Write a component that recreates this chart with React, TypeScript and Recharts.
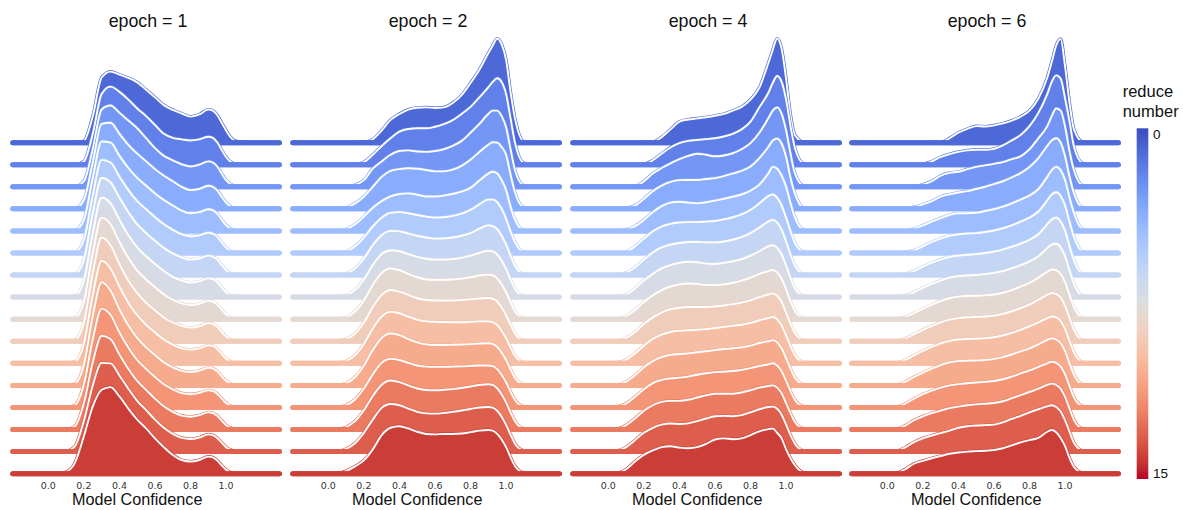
import { Area, ComposedChart, XAxis, YAxis } from "recharts";

// confidence grid the densities were read at
const X_GRID = [
	0.05, 0.1, 0.15, 0.2, 0.25, 0.3, 0.35, 0.4, 0.45, 0.5, 0.55, 0.6, 0.65, 0.7,
	0.75, 0.8, 0.85, 0.9, 0.925, 0.95, 0.975, 1.0, 1.025, 1.05, 1.1, 1.15,
];
const X_MIN = -0.2;
const X_MAX = 1.3;
const X_TICKS = [0, 0.2, 0.4, 0.6, 0.8, 1.0];
const EPOCHS = [1, 2, 4, 6];
const REDUCE_MIN = 0;
const REDUCE_MAX = 15;

// one density row per reduce number (0 on top .. 15 at the bottom)
const EPOCH_1 = [
	[0, 0, 0, 0.08, 1.2, 2.95, 3.22, 3.08, 2.93, 2.73, 2.4, 2.05, 1.7, 1.48, 1.32, 1.18, 1.28, 1.5, 1.45, 1.25, 0.9, 0.55, 0.25, 0.08, 0.01, 0],
	[0, 0, 0, 0.15, 1.4, 3.2, 3.54, 3.3, 2.95, 2.55, 2.2, 1.8, 1.4, 1.22, 1.15, 1.1, 1.15, 1.27, 1.22, 1.02, 0.68, 0.35, 0.13, 0.04, 0, 0],
	[0, 0, 0.01, 0.25, 1.7, 3.5, 3.68, 3.35, 3.0, 2.65, 2.2, 1.75, 1.4, 1.2, 1.02, 0.92, 1.0, 1.15, 1.1, 0.92, 0.6, 0.3, 0.12, 0.04, 0, 0],
	[0, 0, 0.02, 0.4, 2.1, 3.85, 3.9, 3.4, 2.9, 2.5, 2.15, 1.8, 1.5, 1.25, 1.0, 0.85, 0.9, 1.05, 1.0, 0.84, 0.55, 0.28, 0.1, 0.03, 0, 0],
	[0, 0, 0.03, 0.5, 2.4, 4.05, 4.0, 3.4, 2.85, 2.4, 2.05, 1.7, 1.4, 1.15, 0.92, 0.8, 0.85, 0.98, 0.94, 0.78, 0.51, 0.26, 0.1, 0.03, 0, 0],
	[0, 0, 0.04, 0.6, 2.6, 4.22, 4.1, 3.45, 2.85, 2.35, 1.98, 1.62, 1.3, 1.05, 0.85, 0.75, 0.8, 0.92, 0.88, 0.74, 0.48, 0.24, 0.09, 0.03, 0, 0],
	[0, 0, 0.05, 0.7, 2.8, 4.4, 4.2, 3.5, 2.85, 2.3, 1.9, 1.55, 1.22, 0.98, 0.8, 0.7, 0.75, 0.88, 0.84, 0.7, 0.46, 0.23, 0.09, 0.03, 0, 0],
	[0, 0, 0.05, 0.75, 2.9, 4.5, 4.25, 3.5, 2.8, 2.25, 1.85, 1.5, 1.18, 0.92, 0.75, 0.66, 0.72, 0.85, 0.82, 0.68, 0.44, 0.22, 0.08, 0.03, 0, 0],
	[0, 0, 0.06, 0.8, 3.0, 4.6, 4.3, 3.5, 2.78, 2.2, 1.8, 1.45, 1.12, 0.88, 0.72, 0.64, 0.7, 0.83, 0.8, 0.66, 0.43, 0.22, 0.08, 0.02, 0, 0],
	[0, 0, 0.06, 0.85, 3.1, 4.7, 4.35, 3.5, 2.75, 2.18, 1.75, 1.4, 1.08, 0.85, 0.7, 0.62, 0.68, 0.82, 0.79, 0.66, 0.43, 0.21, 0.08, 0.02, 0, 0],
	[0, 0, 0.07, 0.9, 3.1, 4.65, 4.3, 3.48, 2.75, 2.18, 1.75, 1.4, 1.08, 0.85, 0.68, 0.62, 0.68, 0.82, 0.79, 0.66, 0.43, 0.21, 0.08, 0.02, 0, 0],
	[0, 0, 0.08, 0.95, 3.15, 4.68, 4.3, 3.45, 2.72, 2.15, 1.72, 1.38, 1.05, 0.82, 0.66, 0.6, 0.67, 0.8, 0.77, 0.64, 0.42, 0.21, 0.08, 0.02, 0, 0],
	[0, 0, 0.1, 1.05, 3.1, 4.48, 4.2, 3.4, 2.72, 2.15, 1.75, 1.38, 1.05, 0.82, 0.65, 0.6, 0.66, 0.78, 0.75, 0.62, 0.41, 0.2, 0.08, 0.02, 0, 0],
	[0, 0.01, 0.15, 1.2, 3.05, 4.25, 4.1, 3.4, 2.75, 2.2, 1.8, 1.4, 1.05, 0.8, 0.63, 0.58, 0.65, 0.78, 0.75, 0.62, 0.41, 0.2, 0.08, 0.02, 0, 0],
	[0, 0.02, 0.25, 1.4, 3.0, 4.02, 4.0, 3.45, 2.85, 2.3, 1.88, 1.45, 1.08, 0.8, 0.62, 0.57, 0.64, 0.78, 0.75, 0.62, 0.41, 0.2, 0.08, 0.02, 0, 0],
	[0, 0.08, 0.5, 1.7, 3.05, 3.8, 3.92, 3.5, 2.95, 2.45, 2.05, 1.6, 1.2, 0.85, 0.62, 0.55, 0.62, 0.77, 0.74, 0.6, 0.38, 0.18, 0.07, 0.02, 0, 0],
];

const EPOCH_2 = [
	[0, 0, 0, 0.02, 0.15, 0.55, 1.03, 1.3, 1.5, 1.58, 1.6, 1.57, 1.6, 1.8, 2.15, 2.7, 3.3, 4.05, 4.4, 4.72, 4.45, 3.75, 2.3, 1.1, 0.05, 0],
	[0, 0, 0.02, 0.12, 0.45, 0.85, 1.2, 1.5, 1.62, 1.65, 1.65, 1.72, 1.84, 2.02, 2.3, 2.62, 3.05, 3.5, 3.75, 3.92, 3.75, 3.2, 2.1, 1.0, 0.08, 0],
	[0, 0.01, 0.08, 0.3, 0.82, 1.15, 1.45, 1.62, 1.65, 1.6, 1.58, 1.62, 1.7, 1.85, 2.08, 2.45, 2.85, 3.3, 3.45, 3.45, 3.2, 2.7, 1.7, 0.75, 0.06, 0],
	[0, 0.05, 0.25, 0.55, 1.0, 1.45, 1.72, 1.8, 1.84, 1.82, 1.76, 1.7, 1.7, 1.78, 1.95, 2.22, 2.58, 2.9, 3.02, 3.0, 2.8, 2.45, 1.55, 0.75, 0.06, 0],
	[0.01, 0.08, 0.3, 0.65, 1.05, 1.35, 1.56, 1.67, 1.7, 1.64, 1.56, 1.56, 1.6, 1.68, 1.78, 1.95, 2.28, 2.6, 2.68, 2.6, 2.3, 1.85, 1.1, 0.5, 0.04, 0],
	[0.01, 0.06, 0.3, 0.7, 1.2, 1.6, 1.82, 1.85, 1.8, 1.72, 1.65, 1.6, 1.62, 1.68, 1.78, 1.95, 2.2, 2.42, 2.42, 2.3, 2.0, 1.55, 0.98, 0.5, 0.05, 0],
	[0.01, 0.07, 0.3, 0.75, 1.35, 1.8, 2.0, 1.98, 1.88, 1.78, 1.7, 1.65, 1.66, 1.7, 1.78, 1.9, 2.1, 2.25, 2.22, 2.08, 1.78, 1.38, 0.88, 0.42, 0.04, 0],
	[0.02, 0.08, 0.32, 0.8, 1.45, 1.95, 2.12, 2.08, 1.95, 1.82, 1.74, 1.7, 1.7, 1.72, 1.78, 1.88, 2.0, 2.1, 2.07, 1.93, 1.65, 1.28, 0.8, 0.38, 0.04, 0],
	[0.02, 0.09, 0.35, 0.85, 1.55, 2.1, 2.3, 2.22, 2.05, 1.9, 1.8, 1.78, 1.78, 1.8, 1.84, 1.9, 1.98, 2.02, 1.99, 1.85, 1.58, 1.22, 0.77, 0.36, 0.04, 0],
	[0.02, 0.1, 0.35, 0.85, 1.55, 2.1, 2.32, 2.25, 2.1, 1.95, 1.87, 1.85, 1.85, 1.85, 1.87, 1.9, 1.94, 1.96, 1.93, 1.8, 1.53, 1.18, 0.75, 0.35, 0.04, 0],
	[0.02, 0.1, 0.36, 0.88, 1.58, 2.12, 2.33, 2.27, 2.12, 1.98, 1.9, 1.88, 1.87, 1.86, 1.86, 1.88, 1.9, 1.9, 1.87, 1.74, 1.48, 1.14, 0.72, 0.34, 0.04, 0],
	[0.02, 0.1, 0.37, 0.9, 1.6, 2.15, 2.35, 2.28, 2.1, 1.95, 1.86, 1.83, 1.83, 1.84, 1.85, 1.87, 1.9, 1.91, 1.88, 1.75, 1.49, 1.15, 0.73, 0.34, 0.04, 0],
	[0.02, 0.1, 0.36, 0.86, 1.5, 2.02, 2.2, 2.15, 2.02, 1.9, 1.85, 1.84, 1.84, 1.85, 1.86, 1.88, 1.9, 1.9, 1.87, 1.74, 1.48, 1.14, 0.72, 0.34, 0.04, 0],
	[0.02, 0.11, 0.38, 0.88, 1.52, 2.03, 2.22, 2.15, 2.0, 1.86, 1.79, 1.78, 1.8, 1.83, 1.88, 1.95, 2.02, 2.05, 2.02, 1.87, 1.6, 1.23, 0.78, 0.37, 0.04, 0],
	[0.02, 0.12, 0.38, 0.85, 1.45, 1.98, 2.16, 2.1, 1.95, 1.8, 1.73, 1.72, 1.75, 1.8, 1.86, 1.93, 2.0, 2.02, 1.99, 1.85, 1.58, 1.21, 0.77, 0.36, 0.04, 0],
	[0.02, 0.12, 0.33, 0.6, 1.1, 1.75, 2.08, 2.15, 2.05, 1.9, 1.8, 1.78, 1.8, 1.8, 1.82, 1.88, 1.95, 1.98, 1.95, 1.8, 1.55, 1.2, 0.75, 0.35, 0.04, 0],
];

const EPOCH_4 = [
	[0, 0, 0, 0, 0.02, 0.25, 0.6, 0.95, 1.05, 1.1, 1.15, 1.22, 1.3, 1.45, 1.62, 1.95, 2.5, 3.6, 4.2, 4.72, 4.25, 2.9, 1.25, 0.35, 0.02, 0],
	[0, 0, 0, 0.02, 0.2, 0.5, 0.78, 0.98, 1.08, 1.12, 1.16, 1.2, 1.28, 1.4, 1.6, 1.95, 2.6, 3.25, 3.7, 4.02, 3.75, 2.95, 1.75, 0.75, 0.05, 0],
	[0, 0, 0.03, 0.25, 0.6, 0.85, 1.06, 1.25, 1.4, 1.5, 1.45, 1.38, 1.42, 1.52, 1.7, 1.98, 2.45, 3.1, 3.45, 3.6, 3.3, 2.55, 1.5, 0.6, 0.04, 0],
	[0, 0.03, 0.15, 0.45, 0.8, 1.05, 1.22, 1.3, 1.31, 1.31, 1.35, 1.39, 1.48, 1.6, 1.72, 1.92, 2.3, 2.8, 3.1, 3.18, 2.95, 2.35, 1.4, 0.68, 0.05, 0],
	[0.01, 0.06, 0.22, 0.5, 0.85, 1.12, 1.28, 1.32, 1.28, 1.25, 1.3, 1.37, 1.45, 1.55, 1.65, 1.82, 2.1, 2.6, 2.9, 2.82, 2.5, 2.0, 1.25, 0.6, 0.05, 0],
	[0.01, 0.07, 0.3, 0.65, 0.98, 1.2, 1.32, 1.38, 1.4, 1.4, 1.42, 1.45, 1.52, 1.62, 1.75, 1.95, 2.25, 2.58, 2.65, 2.5, 2.15, 1.6, 0.98, 0.45, 0.05, 0],
	[0.02, 0.1, 0.35, 0.7, 1.02, 1.25, 1.38, 1.45, 1.5, 1.5, 1.48, 1.48, 1.52, 1.6, 1.72, 1.9, 2.15, 2.42, 2.5, 2.38, 2.05, 1.52, 0.92, 0.42, 0.05, 0],
	[0.02, 0.12, 0.4, 0.75, 1.05, 1.3, 1.45, 1.55, 1.6, 1.58, 1.52, 1.5, 1.55, 1.62, 1.72, 1.88, 2.08, 2.3, 2.35, 2.23, 1.93, 1.42, 0.87, 0.4, 0.05, 0],
	[0.03, 0.15, 0.42, 0.78, 1.08, 1.32, 1.48, 1.58, 1.62, 1.6, 1.55, 1.55, 1.58, 1.65, 1.75, 1.88, 2.05, 2.18, 2.23, 2.12, 1.83, 1.35, 0.82, 0.38, 0.04, 0],
	[0.03, 0.15, 0.42, 0.78, 1.08, 1.3, 1.45, 1.52, 1.55, 1.55, 1.55, 1.58, 1.62, 1.68, 1.75, 1.85, 2.0, 2.12, 2.17, 2.06, 1.78, 1.3, 0.8, 0.37, 0.04, 0],
	[0.03, 0.16, 0.45, 0.8, 1.1, 1.3, 1.42, 1.48, 1.5, 1.52, 1.55, 1.6, 1.65, 1.7, 1.75, 1.83, 1.95, 2.05, 2.1, 2.0, 1.72, 1.26, 0.78, 0.36, 0.04, 0],
	[0.03, 0.17, 0.46, 0.82, 1.1, 1.28, 1.38, 1.42, 1.45, 1.5, 1.55, 1.6, 1.65, 1.68, 1.72, 1.8, 1.92, 2.0, 2.05, 1.95, 1.68, 1.23, 0.76, 0.35, 0.04, 0],
	[0.04, 0.18, 0.48, 0.82, 1.1, 1.25, 1.32, 1.35, 1.4, 1.48, 1.55, 1.6, 1.62, 1.65, 1.7, 1.78, 1.88, 1.95, 2.0, 1.9, 1.64, 1.2, 0.74, 0.34, 0.04, 0],
	[0.04, 0.2, 0.5, 0.85, 1.1, 1.25, 1.3, 1.3, 1.35, 1.45, 1.55, 1.62, 1.62, 1.62, 1.68, 1.78, 1.9, 1.97, 2.0, 1.9, 1.64, 1.2, 0.74, 0.34, 0.04, 0],
	[0.04, 0.2, 0.52, 0.85, 1.08, 1.22, 1.27, 1.25, 1.28, 1.38, 1.5, 1.6, 1.62, 1.6, 1.65, 1.78, 1.92, 2.02, 2.04, 1.94, 1.67, 1.22, 0.75, 0.35, 0.04, 0],
	[0.03, 0.2, 0.55, 0.85, 1.05, 1.2, 1.24, 1.18, 1.15, 1.2, 1.35, 1.55, 1.6, 1.56, 1.6, 1.75, 1.92, 2.02, 2.05, 1.85, 1.6, 1.1, 0.7, 0.38, 0.05, 0],
];

const EPOCH_6 = [
	[0, 0, 0, 0, 0, 0.02, 0.2, 0.45, 0.62, 0.75, 0.73, 0.78, 0.87, 1.0, 1.18, 1.45, 2.0, 2.95, 3.65, 4.4, 4.7, 3.44, 1.8, 0.6, 0.03, 0],
	[0, 0, 0, 0.02, 0.15, 0.35, 0.48, 0.58, 0.65, 0.68, 0.68, 0.72, 0.88, 1.1, 1.35, 1.75, 2.35, 3.2, 3.75, 4.05, 3.9, 3.0, 1.95, 0.82, 0.06, 0],
	[0, 0, 0.01, 0.1, 0.25, 0.5, 0.63, 0.68, 0.8, 0.9, 0.97, 1.04, 1.12, 1.25, 1.38, 1.7, 2.2, 2.75, 3.2, 3.55, 3.45, 2.72, 1.6, 0.75, 0.06, 0],
	[0, 0.02, 0.08, 0.2, 0.35, 0.55, 0.66, 0.74, 0.8, 0.9, 1.0, 1.12, 1.25, 1.42, 1.62, 1.9, 2.3, 2.85, 3.1, 3.2, 3.0, 2.37, 1.45, 0.7, 0.06, 0],
	[0, 0.02, 0.1, 0.25, 0.42, 0.58, 0.72, 0.8, 0.8, 0.82, 0.9, 0.98, 1.1, 1.25, 1.42, 1.6, 1.9, 2.45, 2.75, 2.9, 2.75, 2.3, 1.5, 0.8, 0.07, 0],
	[0, 0.03, 0.12, 0.3, 0.5, 0.65, 0.78, 0.85, 0.88, 0.9, 0.95, 1.02, 1.12, 1.25, 1.42, 1.6, 1.88, 2.38, 2.65, 2.75, 2.58, 2.15, 1.4, 0.72, 0.06, 0],
	[0.01, 0.05, 0.18, 0.38, 0.56, 0.7, 0.82, 0.88, 0.92, 0.95, 1.0, 1.06, 1.15, 1.28, 1.42, 1.6, 1.85, 2.3, 2.52, 2.6, 2.42, 2.0, 1.3, 0.66, 0.05, 0],
	[0.01, 0.07, 0.22, 0.42, 0.6, 0.75, 0.88, 0.95, 0.98, 1.0, 1.04, 1.1, 1.18, 1.3, 1.45, 1.62, 1.85, 2.22, 2.38, 2.42, 2.25, 1.85, 1.2, 0.6, 0.05, 0],
	[0.02, 0.1, 0.28, 0.48, 0.66, 0.82, 0.95, 1.02, 1.05, 1.06, 1.08, 1.12, 1.2, 1.32, 1.48, 1.65, 1.88, 2.15, 2.25, 2.22, 2.05, 1.68, 1.1, 0.55, 0.05, 0],
	[0.02, 0.12, 0.32, 0.52, 0.7, 0.86, 0.98, 1.05, 1.08, 1.1, 1.12, 1.16, 1.24, 1.36, 1.5, 1.66, 1.88, 2.1, 2.18, 2.15, 1.98, 1.6, 1.05, 0.52, 0.05, 0],
	[0.02, 0.14, 0.36, 0.56, 0.74, 0.9, 1.02, 1.08, 1.1, 1.12, 1.14, 1.18, 1.26, 1.38, 1.52, 1.68, 1.86, 2.05, 2.12, 2.08, 1.92, 1.55, 1.02, 0.5, 0.05, 0],
	[0.03, 0.16, 0.38, 0.58, 0.76, 0.92, 1.04, 1.1, 1.12, 1.13, 1.15, 1.2, 1.28, 1.4, 1.54, 1.68, 1.86, 2.06, 2.13, 2.08, 1.92, 1.55, 1.0, 0.48, 0.05, 0],
	[0.03, 0.17, 0.4, 0.6, 0.76, 0.9, 1.0, 1.06, 1.1, 1.13, 1.16, 1.2, 1.28, 1.4, 1.54, 1.68, 1.84, 2.0, 2.07, 2.02, 1.86, 1.5, 0.98, 0.46, 0.05, 0],
	[0.03, 0.18, 0.42, 0.6, 0.74, 0.86, 0.97, 1.04, 1.1, 1.14, 1.17, 1.2, 1.28, 1.42, 1.56, 1.7, 1.85, 2.02, 2.08, 2.02, 1.85, 1.48, 0.95, 0.44, 0.04, 0],
	[0.03, 0.19, 0.43, 0.6, 0.73, 0.84, 0.95, 1.08, 1.15, 1.18, 1.2, 1.22, 1.32, 1.48, 1.62, 1.78, 1.92, 2.05, 2.1, 2.02, 1.82, 1.42, 0.9, 0.4, 0.04, 0],
	[0.03, 0.2, 0.45, 0.58, 0.7, 0.8, 0.9, 0.96, 1.0, 1.02, 1.04, 1.07, 1.15, 1.28, 1.42, 1.52, 1.62, 1.9, 1.98, 1.88, 1.62, 1.25, 0.7, 0.3, 0.03, 0],
];

const PANEL_ROWS = [EPOCH_1, EPOCH_2, EPOCH_4, EPOCH_6];
const PANEL_LEFT = [0, 280, 560, 839];

// matplotlib coolwarm, 33 stops
const COOLWARM = [
	[59, 76, 192], [68, 90, 204], [77, 104, 215], [87, 117, 225], [98, 130, 234],
	[108, 142, 241], [119, 154, 247], [130, 165, 251], [141, 176, 254], [152, 185, 255],
	[163, 194, 255], [174, 201, 253], [184, 208, 249], [194, 213, 244], [204, 217, 238],
	[213, 219, 230], [221, 221, 221], [229, 216, 209], [236, 211, 197], [241, 204, 185],
	[245, 196, 173], [247, 187, 160], [247, 177, 148], [247, 166, 135], [244, 154, 123],
	[241, 141, 111], [236, 127, 99], [229, 112, 88], [222, 96, 77], [213, 80, 66],
	[203, 62, 56], [192, 40, 47], [180, 4, 38],
];

const coolwarm = (t: number) => {
	const p = t * (COOLWARM.length - 1);
	const i = Math.min(Math.floor(p), COOLWARM.length - 2);
	const f = p - i;
	const c = COOLWARM[i].map((v, k) => Math.round(v + (COOLWARM[i + 1][k] - v) * f));
	return `rgb(${c.join(",")})`;
};

const N_ROWS = REDUCE_MAX - REDUCE_MIN + 1;
const ROW_COLORS = Array.from({ length: N_ROWS }, (_, i) =>
	coolwarm(0.0625 + (i * 0.875) / (N_ROWS - 1)),
);

const buildData = (rows: number[][]) => {
	const xs = [X_MIN, ...X_GRID, X_MAX];
	return xs.map((x, j) => {
		const point: Record<string, number | number[]> = { x };
		rows.forEach((dens, i) => {
			const base = N_ROWS - 1 - i;
			const d = j === 0 || j === xs.length - 1 ? 0 : dens[j - 1];
			point[`r${i}`] = [base, base + d];
			point[`b${i}`] = [base, base];
		});
		return point;
	});
};

const ConfidenceTick = (props: any) => (
	<text
		x={props.x}
		y={props.y}
		dy={4}
		textAnchor="middle"
		fontSize={9.5}
		fontFamily="DejaVu Sans"
		fill="#333"
	>
		{Number(props.payload.value).toFixed(1)}
	</text>
);

const RidgePanel = ({ epoch, rows, left }: { epoch: number; rows: number[][]; left: number }) => {
	const data = buildData(rows);
	return (
		<div style={{ position: "absolute", left, top: 0 }}>
			<ComposedChart
				width={286}
				height={510}
				data={data}
				margin={{ top: 32.3, right: 6.6, bottom: 0, left: 12.8 }}
			>
				<XAxis
					dataKey="x"
					type="number"
					domain={[X_MIN, X_MAX]}
					ticks={X_TICKS}
					interval={0}
					height={25.3}
					axisLine={false}
					tickLine={false}
					tickSize={0}
					tickMargin={0}
					tick={ConfidenceTick}
				/>
				<YAxis hide type="number" domain={[-0.5, 20]} />
				{rows.map((_, i) => [
					<Area
						key={`fill${i}`}
						dataKey={`r${i}`}
						type="monotone"
						fill={ROW_COLORS[i]}
						fillOpacity={1}
						stroke={ROW_COLORS[i]}
						strokeWidth={3.2}
						dot={false}
						activeDot={false}
						isAnimationActive={false}
					/>,
					<Area
						key={`edge${i}`}
						dataKey={`r${i}`}
						type="monotone"
						fill="none"
						stroke="#ffffff"
						strokeWidth={1.9}
						dot={false}
						activeDot={false}
						isAnimationActive={false}
					/>,
					<Area
						key={`base${i}`}
						dataKey={`b${i}`}
						type="linear"
						fill="none"
						stroke={ROW_COLORS[i]}
						strokeWidth={5}
						strokeLinecap="round"
						dot={false}
						activeDot={false}
						isAnimationActive={false}
					/>,
				])}
				<text
					x={148}
					y={26.7}
					textAnchor="middle"
					fontSize={17.8}
					fontFamily="Liberation Sans"
					fill="#111"
				>
					epoch = {epoch}
				</text>
				<text
					x={137.2}
					y={505}
					textAnchor="middle"
					fontSize={16.2}
					fontFamily="Liberation Sans"
					fill="#111"
				>
					Model Confidence
				</text>
			</ComposedChart>
		</div>
	);
};

const ColorBar = () => (
	<svg
		width={73}
		height={420}
		style={{ position: "absolute", left: 1110, top: 70 }}
	>
		<defs>
			<linearGradient id="coolwarmBar" x1="0" y1="0" x2="0" y2="1">
				{COOLWARM.map((c, k) => (
					<stop
						key={k}
						offset={`${(k / (COOLWARM.length - 1)) * 100}%`}
						stopColor={`rgb(${c.join(",")})`}
					/>
				))}
			</linearGradient>
		</defs>
		<rect x={26.7} y={58.3} width={11.6} height={350.7} fill="url(#coolwarmBar)" />
		<text x={12.7} y={27.3} fontSize={16.5} fontFamily="Liberation Sans" fill="#111">
			reduce
		</text>
		<text x={12.7} y={47.3} fontSize={16.5} fontFamily="Liberation Sans" fill="#111">
			number
		</text>
		<text x={43} y={68.5} fontSize={13.5} fontFamily="Liberation Sans" fill="#111">
			{REDUCE_MIN}
		</text>
		<text x={43} y={407.5} fontSize={13.5} fontFamily="Liberation Sans" fill="#111">
			{REDUCE_MAX}
		</text>
	</svg>
);

export default function App() {
	return (
		<div
			style={{
				position: "absolute",
				left: 0,
				top: 0,
				width: 1183,
				height: 510,
				background: "#ffffff",
				overflow: "hidden",
			}}
		>
			{EPOCHS.map((epoch, p) => (
				<RidgePanel key={epoch} epoch={epoch} rows={PANEL_ROWS[p]} left={PANEL_LEFT[p]} />
			))}
			<ColorBar />
		</div>
	);
}
